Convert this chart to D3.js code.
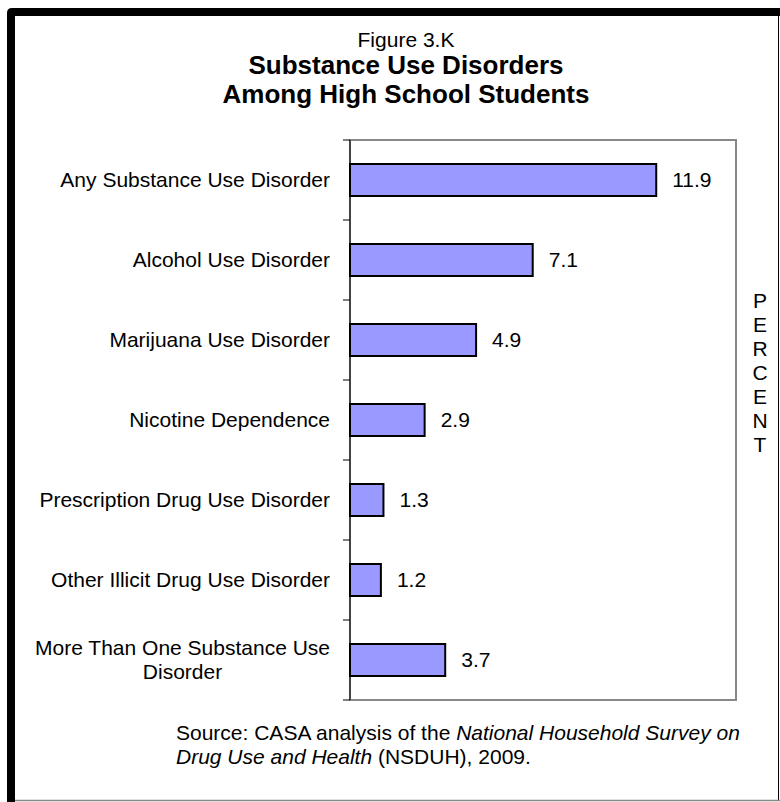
<!DOCTYPE html>
<html>
<head>
<meta charset="utf-8">
<script src="https://cdn.jsdelivr.net/npm/d3@7"></script>
<style>
  html, body { margin: 0; padding: 0; background: #fff; }
  svg { display: block; font-family: "Liberation Sans", Arial, sans-serif; }
</style>
</head>
<body>
<svg id="chart" width="780" height="802"></svg>
<script>
// ---- data ----
const categories = [
  "Any Substance Use Disorder",
  "Alcohol Use Disorder",
  "Marijuana Use Disorder",
  "Nicotine Dependence",
  "Prescription Drug Use Disorder",
  "Other Illicit Drug Use Disorder",
  "More Than One Substance Use Disorder"
];
const categoryLines = [
  ["Any Substance Use Disorder"],
  ["Alcohol Use Disorder"],
  ["Marijuana Use Disorder"],
  ["Nicotine Dependence"],
  ["Prescription Drug Use Disorder"],
  ["Other Illicit Drug Use Disorder"],
  ["More Than One Substance Use", "Disorder"]
];
const values = [11.9, 7.1, 4.9, 2.9, 1.3, 1.2, 3.7];
const valueLabels = ["11.9", "7.1", "4.9", "2.9", "1.3", "1.2", "3.7"];
const xDomain = [0, 15];
const titleLines = ["Substance Use Disorders", "Among High School Students"];
const figureLabel = "Figure 3.K";
const axisTitle = "PERCENT";

// ---- layout ----
const svg = d3.select("#chart");
const plot = { left: 350, right: 736, top: 140, bottom: 700 };

const x = d3.scaleLinear().domain(xDomain).range([plot.left, plot.right]);
const y = d3.scaleBand().domain(categories).range([plot.top, plot.bottom])
  .paddingInner(0.6).paddingOuter(0.3);

// ---- outer frame ----
svg.append("rect").attr("x", 11).attr("y", 12).attr("width", 767.5).attr("height", 788.5)
  .attr("fill", "none").attr("stroke", "#000").attr("stroke-width", 1);
svg.append("line").attr("x1", 11).attr("x2", 780).attr("y1", 800.5).attr("y2", 800.5)
  .attr("stroke", "#888").attr("stroke-width", 1.5);
svg.append("path")
  .attr("d", "M7,802 L7,13 Q7,8 12,8 L780,8 L780,16 L15,16 L15,802 Z")
  .attr("fill", "#000");

// ---- title ----
const cx = 406;
svg.append("text").attr("x", cx).attr("y", 47).attr("text-anchor", "middle")
  .attr("font-size", 21).text(figureLabel);
svg.selectAll("text.title").data(titleLines).enter().append("text")
  .attr("class", "title")
  .attr("x", cx).attr("y", (d, i) => 74 + i * 29)
  .attr("text-anchor", "middle").attr("font-size", 26).attr("font-weight", "bold")
  .text(d => d);

// ---- plot area ----
svg.append("rect")
  .attr("x", plot.left).attr("y", plot.top)
  .attr("width", plot.right - plot.left).attr("height", plot.bottom - plot.top)
  .attr("fill", "#fff").attr("stroke", "#888").attr("stroke-width", 2);

// bars
svg.selectAll("rect.bar").data(values).enter().append("rect")
  .attr("class", "bar")
  .attr("x", x(0))
  .attr("y", (d, i) => y(categories[i]))
  .attr("width", d => x(d) - x(0))
  .attr("height", y.bandwidth())
  .attr("fill", "#9999FF").attr("stroke", "#000").attr("stroke-width", 2);

// value labels
svg.selectAll("text.val").data(values).enter().append("text")
  .attr("class", "val")
  .attr("x", d => x(d) + 16)
  .attr("y", (d, i) => y(categories[i]) + y.bandwidth() / 2)
  .attr("dy", "0.35em")
  .attr("font-size", 21)
  .text((d, i) => valueLabels[i]);

// y axis: ticks at band boundaries
const boundaries = categories.map(c => y(c) - y.step() * 0.3).concat([plot.bottom]);
const ax = svg.append("g");
ax.append("line").attr("x1", plot.left).attr("x2", plot.left)
  .attr("y1", plot.top).attr("y2", plot.bottom).attr("stroke", "#000").attr("stroke-width", 1);
ax.selectAll("line.tick").data(boundaries).enter().append("line")
  .attr("class", "tick")
  .attr("x1", plot.left - 7).attr("x2", plot.left)
  .attr("y1", d => d).attr("y2", d => d)
  .attr("stroke", "#000").attr("stroke-width", 1);

// category labels
const labelRight = 330;
const lineH = 24;
categoryLines.forEach((lines, i) => {
  const cyy = y(categories[i]) + y.bandwidth() / 2;
  const g = svg.append("g");
  const n = lines.length;
  if (n === 1) {
    g.append("text").attr("x", labelRight).attr("y", cyy).attr("dy", "0.35em")
      .attr("text-anchor", "end").attr("font-size", 21).text(lines[0]);
  } else {
    const t = g.selectAll("text").data(lines).enter().append("text")
      .attr("y", (d, k) => cyy + (k - (n - 1) / 2) * lineH)
      .attr("dy", "0.35em").attr("text-anchor", "middle").attr("font-size", 21)
      .text(d => d);
    let maxW = 0;
    t.each(function () { maxW = Math.max(maxW, this.getComputedTextLength()); });
    t.attr("x", labelRight - maxW / 2);
  }
});

// axis title: stacked letters
svg.selectAll("text.pct").data(axisTitle.split("")).enter().append("text")
  .attr("class", "pct")
  .attr("x", 760).attr("y", (d, i) => 308 + i * 24)
  .attr("text-anchor", "middle").attr("font-size", 21)
  .text(d => d);

// source
const src = svg.append("text").attr("x", 176).attr("y", 740).attr("font-size", 21);
src.append("tspan").text("Source: CASA analysis of the ");
src.append("tspan").attr("font-style", "italic").text("National Household Survey on");
const src2 = svg.append("text").attr("x", 176).attr("y", 764).attr("font-size", 21);
src2.append("tspan").attr("font-style", "italic").text("Drug Use and Health");
src2.append("tspan").text(" (NSDUH), 2009.");
</script>
</body>
</html>
